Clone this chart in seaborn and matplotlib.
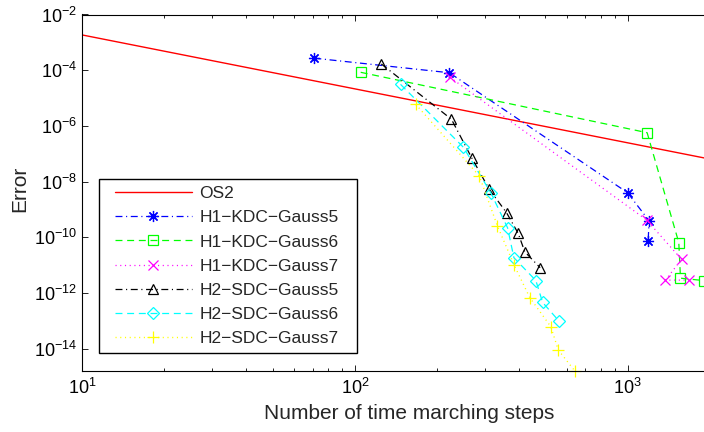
import numpy as np
import matplotlib
matplotlib.use("Agg")
import matplotlib.pyplot as plt
import seaborn as sns
from matplotlib.ticker import LogLocator, NullLocator, FixedLocator, LogFormatterSciNotation
from matplotlib.legend_handler import HandlerLine2D
from matplotlib.patches import Rectangle

# ---------------- data ----------------
OS2_N = [10, 2500]
OS2_ERR = [1.84e-3, 4.2e-8]

H1_G5_N = [71, 222, 1000, 1200, 1190]
H1_G5_ERR = [2.7e-4, 8.1e-5, 4.0e-9, 3.9e-10, 7.4e-11]

H1_G6_N = [105, 1180, 1542, 1564, 1900]
H1_G6_ERR = [8.4e-5, 5.7e-7, 6.4e-11, 3.4e-12, 2.8e-12]

H1_G7_N = [223, 1174, 1578, 1378, 1682]
H1_G7_ERR = [5.6e-5, 4.2e-10, 1.62e-11, 2.9e-12, 2.9e-12]

H2_G5_N = [125, 226, 268, 311, 360, 397, 420, 478]
H2_G5_ERR = [1.67e-4, 1.73e-6, 7.2e-8, 5.3e-9, 7.6e-10, 1.39e-10, 3.0e-11, 8.1e-12]

H2_G6_N = [147, 250, 315, 363, 383, 461, 488, 560]
H2_G6_ERR = [3.1e-5, 1.71e-7, 4.0e-9, 2.2e-10, 1.85e-11, 2.8e-12, 4.6e-13, 9.9e-14]

H2_G7_N = [167, 286, 333, 384, 438, 523, 557, 641]
H2_G7_ERR = [6.0e-6, 1.59e-8, 2.6e-10, 9.9e-12, 6.8e-13, 6.2e-14, 9.0e-15, 1.58e-15]

LABELS = ["OS2", "H1−KDC−Gauss5", "H1−KDC−Gauss6", "H1−KDC−Gauss7",
          "H2−SDC−Gauss5", "H2−SDC−Gauss6", "H2−SDC−Gauss7"]
XLABEL = "Number of time marching steps"
YLABEL = "Error"
XLIM = [10, 2000]
YLIM = [1.58e-15, 1e-2]
YTICKS = [1e-14, 1e-12, 1e-10, 1e-8, 1e-6, 1e-4, 1e-2]

# ---------------- style ----------------
sns.set_style("ticks")
plt.rcParams["font.family"] = ["Liberation Sans", "DejaVu Sans"]
plt.rcParams["mathtext.default"] = "regular"
plt.rcParams["lines.scale_dashes"] = False
plt.rcParams["axes.unicode_minus"] = True

W, H = 704, 432
fig = plt.figure(figsize=(W / 100, H / 100), dpi=100)
ax_left, ax_right, ax_top, ax_bottom = 82.3, 709.6, 14.5, 371.0
ax = fig.add_axes([ax_left / W, 1 - ax_bottom / H,
                   (ax_right - ax_left) / W, (ax_bottom - ax_top) / H])
ax.set_xscale("log")
ax.set_yscale("log")

DASH = (0, (5, 3.4))
DASHDOT = (0, (5, 2.6, 0.8, 2.6))
DOT = (0, (0.8, 2.6))
ASTERISK = (8, 2, 0)

series = [
    (OS2_N, OS2_ERR, "#ff0000", "-", None, 0, True, 1.0),
    (H1_G5_N, H1_G5_ERR, "#0000ff", DASHDOT, ASTERISK, 8, False, 0.9),
    (H1_G6_N, H1_G6_ERR, "#00ff00", DASH, "s", 6.5, False, 0.9),
    (H1_G7_N, H1_G7_ERR, "#ff00ff", DOT, "x", 6.5, False, 0.9),
    (H2_G5_N, H2_G5_ERR, "#000000", DASHDOT, "^", 7.5, False, 0.9),
    (H2_G6_N, H2_G6_ERR, "#00ffff", DASH, "D", 6, False, 0.9),
    (H2_G7_N, H2_G7_ERR, "#ffff00", DOT, "+", 8.5, False, 1.0),
]

handles = []
for n, e, c, ls, mk, ms, clip, lw in series:
    before = len(ax.lines)
    kw = dict(x=n, y=e, ax=ax, sort=False, estimator=None, color=c,
              linestyle=ls, linewidth=lw, legend=False)
    if mk is not None:
        kw.update(marker=mk, markersize=ms, markeredgecolor=c,
                  markerfacecolor="none", markeredgewidth=0.9)
    sns.lineplot(**kw)
    line = ax.lines[before]
    line.set_clip_on(clip)
    handles.append(line)

ax.set_xlim(XLIM)
ax.set_ylim(YLIM)
ax.xaxis.set_major_locator(LogLocator(base=10))
ax.xaxis.set_minor_locator(LogLocator(base=10, subs=np.arange(2, 10)))
ax.yaxis.set_major_locator(FixedLocator(YTICKS))
ax.yaxis.set_major_formatter(LogFormatterSciNotation())
ax.yaxis.set_minor_locator(NullLocator())
ax.tick_params(which="both", direction="in", top=True, right=True,
               labelsize=13, colors="black")
ax.tick_params(which="major", length=4.3, width=0.6)
ax.tick_params(which="minor", length=2.3, width=0.6)
ax.tick_params(axis="x", which="major", pad=5)
ax.tick_params(axis="y", which="major", pad=4)
for sp in ax.spines.values():
    sp.set_linewidth(0.8)
    sp.set_color("black")

ax.set_xlabel(XLABEL, fontsize=15)
ax.set_ylabel(YLABEL, fontsize=15)
ax.xaxis.set_label_coords((409 - ax_left) / (ax_right - ax_left), -0.093)
ax.yaxis.set_label_coords((29 - ax_left) / (ax_right - ax_left),
                          (ax_bottom - 188.5) / (ax_bottom - ax_top))


class PaddedLine(HandlerLine2D):
    def get_xdata(self, legend, xdescent, ydescent, width, height, fontsize):
        start = -xdescent + 0.55 * fontsize
        xdata = [start, -xdescent + width]
        return xdata, [0.5 * (xdata[0] + xdata[1])]


leg = ax.legend(handles, LABELS, loc="upper left",
                bbox_to_anchor=(105 / W, 1 - 186 / H),
                bbox_transform=fig.transFigure, frameon=False,
                borderpad=0, borderaxespad=0, fontsize=12.5,
                handlelength=5.0, handletextpad=0.45, labelspacing=0.52,
                handler_map={plt.Line2D: PaddedLine()})
leg.set_zorder(6)

fig.canvas.draw()
bb = leg.get_window_extent(fig.canvas.get_renderer())
inv = fig.transFigure.inverted()
(x0, y0), (x1, y1) = inv.transform([[bb.x0 - 6, bb.y0 - 7], [bb.x1 + 18, bb.y1 + 7]])
ax.add_patch(Rectangle((x0, y0), x1 - x0, y1 - y0, transform=fig.transFigure,
                       facecolor="white", edgecolor="black", linewidth=1.0,
                       zorder=5.5, clip_on=False))

fig.savefig("out.png", dpi=100)
